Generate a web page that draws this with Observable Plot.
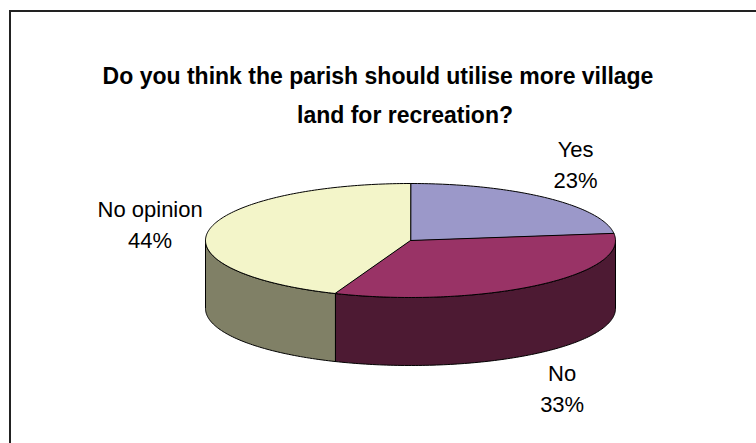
<!DOCTYPE html>
<html>
<head>
<meta charset="utf-8">
<script src="https://cdn.jsdelivr.net/npm/d3@7"></script>
<script src="https://cdn.jsdelivr.net/npm/@observablehq/plot@0.6"></script>
<style>
  html, body { margin: 0; padding: 0; background: #fff; }
  #chart { position: relative; width: 756px; height: 443px; overflow: hidden; background: #fff;
           font-family: "Liberation Sans", Arial, sans-serif; }
  #frame { position: absolute; left: 9px; top: 10px; width: 900px; height: 600px;
           border-left: 2px solid #222; border-top: 2px solid #222; }
  .tl { position: absolute; font-weight: bold; font-size: 23px; line-height: 23px;
        white-space: nowrap; transform: translateX(-50%); color: #000; }
  #chart svg { position: absolute; left: 0; top: 0; }
</style>
</head>
<body>
<div id="chart">
  <div id="frame"></div>
  <div class="tl" id="t1" style="left:378px; top:65px;"></div>
  <div class="tl" id="t2" style="left:405px; top:104px;"></div>
</div>
<script>
// ---- data ----
const titleLines = ["Do you think the parish should utilise more village", "land for recreation?"];
const categories = ["Yes", "No", "No opinion"];
const percents = [23, 33, 44];
// ---- palette ----
const topColors = ["#9b98c9", "#993366", "#f3f5c9"];
const sideColors = ["#4e4c65", "#4d1a33", "#808066"];

document.getElementById("t1").textContent = titleLines[0];
document.getElementById("t2").textContent = titleLines[1];

// 3D look: depth of the cylinder side, in units of the ellipse's vertical radius
const DEPTH = 68 / 57;
const total = d3.sum(percents);
const cum = [0, ...d3.cumsum(percents)];
const slices = categories.map((c, i) => ({
  i, c, p: percents[i],
  a0: cum[i] / total * 360,
  a1: cum[i + 1] / total * 360
}));
const rad = a => a * Math.PI / 180;
function arc(a0, a1, off) {
  const n = Math.max(2, Math.ceil(Math.abs(a1 - a0)));
  return d3.range(n + 1).map(k => {
    const t = rad(a0 + (a1 - a0) * k / n);
    return {x: Math.sin(t), y: -Math.cos(t) + off};
  });
}
const topPts = slices.flatMap(s =>
  [{x: 0, y: 0}, ...arc(s.a0, s.a1, 0)].map(p => ({...p, id: "top" + s.i, fill: topColors[s.i]})));
const sidePts = slices.flatMap(s => {
  const a = Math.max(s.a0, 90), b = Math.min(s.a1, 270);
  if (a >= b) return [];
  return [...arc(a, b, 0), ...arc(b, a, DEPTH)].map(p => ({...p, id: "side" + s.i, fill: sideColors[s.i]}));
});
const labelData = slices.map(s => {
  const m = (s.a0 + s.a1) / 2;
  const front = m > 90 && m < 270;
  return {i: s.i, x: Math.sin(rad(m)), y: -Math.cos(rad(m)) + (front ? DEPTH : 0), text: `${s.c}\n${s.p}%`};
});
const labelOffsets = [[29.5, -35], [26, 33], [-59, -7]];

const plot = Plot.plot({
  width: 756, height: 443,
  marginLeft: 205, marginRight: 141, marginTop: 183, marginBottom: 443 - (240 + 57 + 68),
  x: {domain: [-1, 1], axis: null},
  y: {domain: [-1, 1 + DEPTH], reverse: true, axis: null},
  style: {background: "transparent", fontFamily: "'Liberation Sans', Arial, sans-serif", overflow: "visible"},
  marks: [
    Plot.line(sidePts, {x: "x", y: "y", z: "id", fill: "fill", stroke: "#000", strokeWidth: 1, curve: "linear-closed", strokeLinejoin: "round"}),
    Plot.line(topPts, {x: "x", y: "y", z: "id", fill: "fill", stroke: "#000", strokeWidth: 1, curve: "linear-closed", strokeLinejoin: "round"}),
    ...labelData.map(d => Plot.text([d], {
      x: "x", y: "y", text: "text", fontSize: 22, lineHeight: 31 / 22, fill: "#000",
      textAnchor: "middle", dx: labelOffsets[d.i][0], dy: labelOffsets[d.i][1]
    }))
  ]
});
document.getElementById("chart").appendChild(plot);
</script>
</body>
</html>
